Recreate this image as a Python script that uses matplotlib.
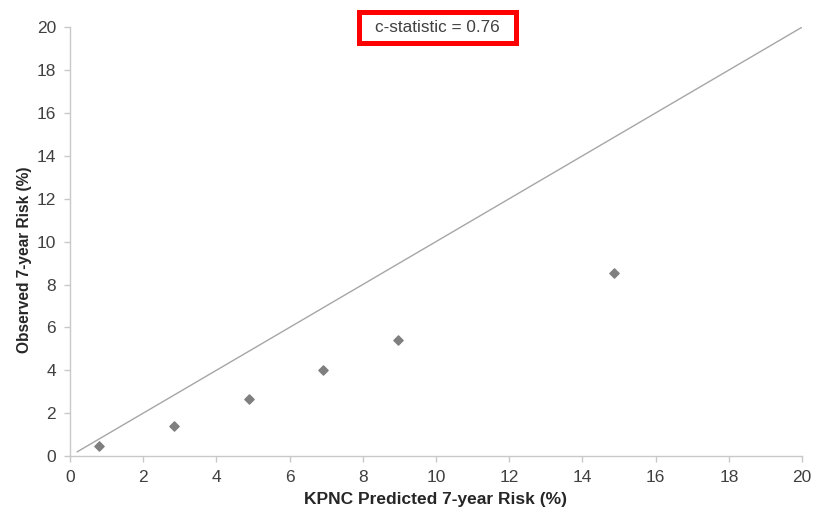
import matplotlib
matplotlib.use("Agg")
import matplotlib.pyplot as plt
from matplotlib.patches import Rectangle

plt.rcParams['font.family'] = ['Liberation Sans', 'DejaVu Sans']

# predicted vs observed 7-year risk, by risk group
predicted = [0.79, 2.85, 4.88, 6.90, 8.95, 14.85]
observed = [0.47, 1.40, 2.66, 4.01, 5.41, 8.52]
ref_line = [0.2, 20]
ticks = [0, 2, 4, 6, 8, 10, 12, 14, 16, 18, 20]

W, H = 827, 513
fig = plt.figure(figsize=(W / 100, H / 100), dpi=100)
ax = fig.add_axes([0.0846, 0.111, 0.8852, 0.836])

ax.plot(ref_line, ref_line, color='#a6a6a6', lw=1.0)
ax.scatter(predicted, observed, marker='D', s=22, color='#7f7f7f', zorder=3)

ax.set_xlim(0, 20)
ax.set_ylim(0, 20)
ax.set_xticks(ticks)
ax.set_yticks(ticks)

for side in ['top', 'right']:
    ax.spines[side].set_visible(False)
for side in ['left', 'bottom']:
    ax.spines[side].set_color('#c8c8c8')
    ax.spines[side].set_linewidth(1.0)
ax.tick_params(colors='#c8c8c8', labelcolor='#404040', labelsize=12.5,
               length=4, width=1.0)
ax.tick_params(axis='y', pad=6)
ax.tick_params(axis='x', pad=6)

ax.set_xlabel('KPNC Predicted 7-year Risk (%)', fontsize=12.5,
              fontweight='bold', color='#262626', labelpad=5)
ax.set_ylabel('Observed 7-year Risk (%)', fontsize=11.2,
              fontweight='bold', color='#262626')
ax.yaxis.set_label_coords(-0.052, 0.457)

# boxed c-statistic at the top
box = Rectangle((359 / W, 1 - 43 / H), 157 / W, 31 / H, transform=fig.transFigure,
                fc='white', ec='#ff0000', lw=3.6)
fig.add_artist(box)
fig.text(437.5 / W, 1 - 27.5 / H, 'c-statistic = 0.76', ha='center', va='center',
         fontsize=12.3, color='#404040')

fig.savefig('out.png', dpi=100)
